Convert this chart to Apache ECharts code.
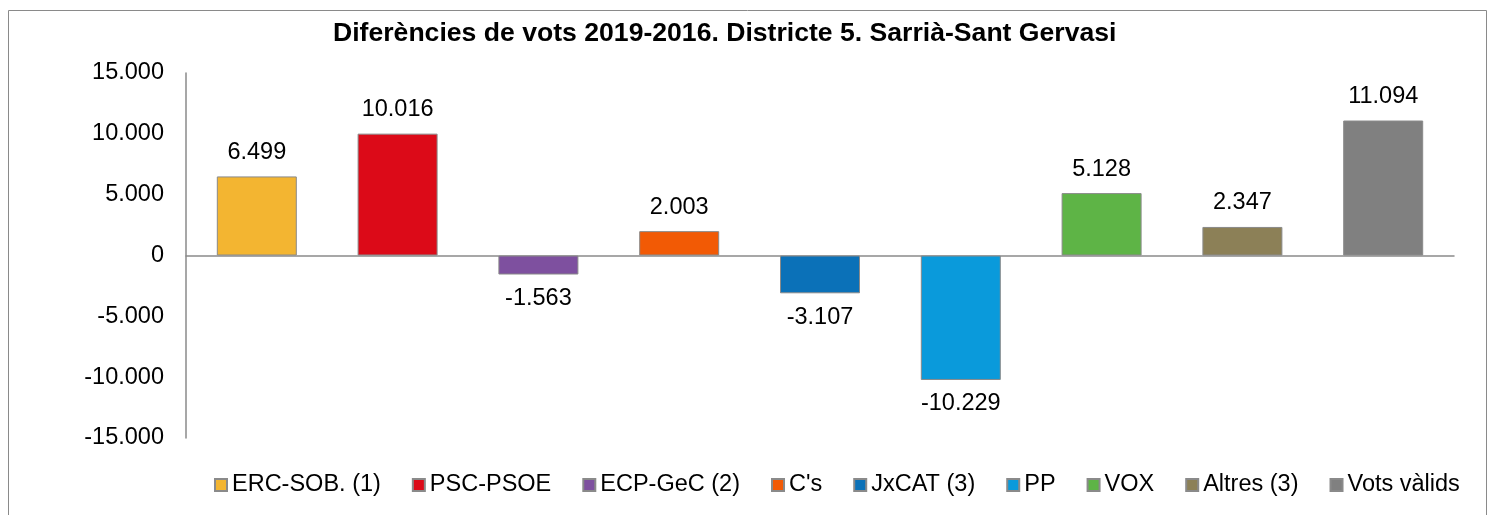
<!DOCTYPE html>
<html>
<head>
<meta charset="utf-8">
<script src="https://cdn.jsdelivr.net/npm/echarts@6/dist/echarts.min.js"></script>
<style>
  html, body { margin: 0; padding: 0; background: #fff; }
  #chart { width: 1492px; height: 515px; }
</style>
</head>
<body>
<div id="chart"></div>
<script>
const parties = ['ERC-SOB. (1)', 'PSC-PSOE', 'ECP-GeC (2)', "C's", 'JxCAT (3)', 'PP', 'VOX', 'Altres (3)', 'Vots vàlids'];
const diffs = [6499, 10016, -1563, 2003, -3107, -10229, 5128, 2347, 11094];
const colors = ['#F3B531', '#DC0A18', '#7E509F', '#F25A05', '#0B71B8', '#0A9ADB', '#5EB446', '#8C8057', '#808080'];
const yTicks = [-15000, -10000, -5000, 0, 5000, 10000, 15000];

const fmt = v => {
  const s = Math.abs(v).toString().replace(/\B(?=(\d{3})+(?!\d))/g, '.');
  return (v < 0 ? '-' : '') + s;
};

const font = 'Liberation Sans, Arial, sans-serif';
const chart = echarts.init(document.getElementById('chart'));

chart.setOption({
  animation: false,
  textStyle: { fontFamily: font },
  graphic: [{
    type: 'rect',
    shape: { x: 8.5, y: 10.5, width: 1478, height: 520 },
    style: { fill: 'none', stroke: '#8a8a8a', lineWidth: 1 },
    z: -1
  }],
  title: {
    text: 'Diferències de vots 2019-2016. Districte 5. Sarrià-Sant Gervasi',
    left: 328, top: 15,
    textStyle: { fontFamily: font, fontSize: 26.6, fontWeight: 'bold', color: '#000' }
  },
  legend: {
    data: parties,
    left: 214, top: 473, padding: 0,
    itemWidth: 12, itemHeight: 12, itemGap: 31,
    icon: 'rect',
    textStyle: { fontFamily: font, fontSize: 23.5, color: '#000' }
  },
  grid: { left: 186, right: 38, top: 73, bottom: 77 },
  xAxis: {
    type: 'category',
    data: [''],
    axisLine: { onZero: true, lineStyle: { color: '#8a8a8a', width: 1.5 } },
    axisTick: { show: false },
    axisLabel: { show: false }
  },
  yAxis: {
    type: 'value',
    min: yTicks[0], max: yTicks[yTicks.length - 1], interval: 5000,
    axisLine: { show: true, lineStyle: { color: '#8a8a8a', width: 1.5 } },
    axisTick: { show: false },
    splitLine: { show: false },
    axisLabel: { formatter: fmt, fontSize: 23.5, color: '#000', margin: 22, fontFamily: font }
  },
  series: parties.map((name, i) => ({
    name,
    type: 'bar',
    data: [diffs[i]],
    barWidth: 80,
    barGap: '76%',
    itemStyle: { color: colors[i], borderColor: '#8a8a8a', borderWidth: 1 },
    label: {
      show: true,
      position: diffs[i] >= 0 ? 'top' : 'bottom',
      distance: 12,
      formatter: p => fmt(p.value),
      fontSize: 23.5, color: '#000', fontFamily: font
    }
  }))
});
</script>
</body>
</html>
